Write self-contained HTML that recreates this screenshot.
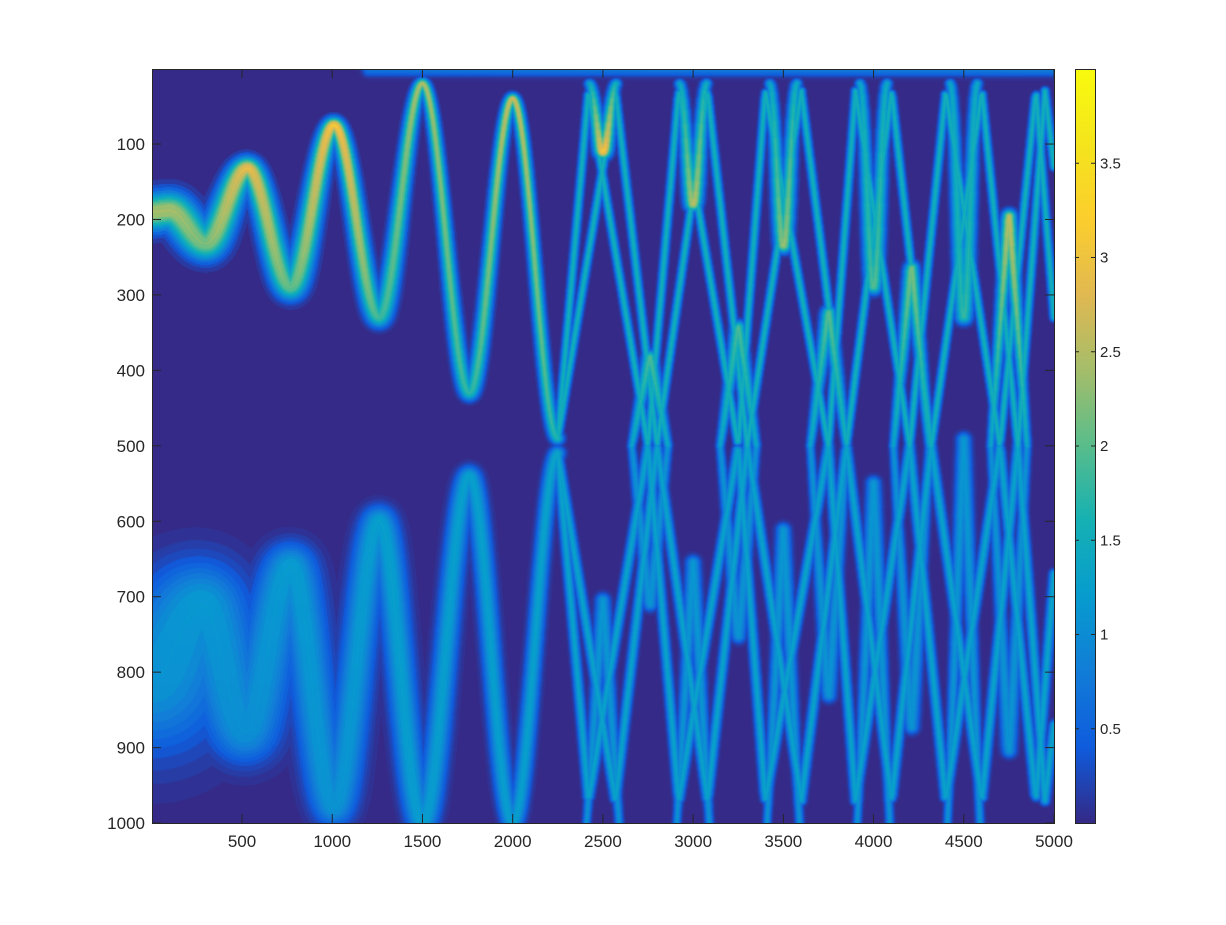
<!DOCTYPE html>
<html><head><meta charset="utf-8"><style>
body{margin:0;background:#fff;width:1226px;height:925px;overflow:hidden;position:relative;font-family:"Liberation Sans",Arial,sans-serif}
canvas{position:absolute}
svg{position:absolute;left:0;top:0}
</style></head><body>
<canvas id="hm" width="902" height="754" style="left:152px;top:69px"></canvas>
<canvas id="cb" width="20" height="754" style="left:1075px;top:69px"></canvas>
<svg id="ax" width="1226" height="925"></svg>
<script>
// ---- data (ridges, data coordinates) ----
const chirpTopX=[1,100,300,530,770,1010,1260,1500,1760,2000,2250];
const chirpTopY=[190,188,232,132,290,75,330,20,430,40,490];
const chirpTopV=[2.6,2.6,2.3,3.1,2.1,3.3,1.9,2.6,1.8,2.8,1.7];
const chirpTopW=[24,24,22,14,17,10,13,7,10,7,8];
const chirpBotX=[1,280,520,770,1010,1260,1500,1760,2000,2250];
const chirpBotY=[810,710,880,660,980,600,1000,540,1000,510];
const chirpBotV=[1.15,1.25,1.1,1.3,1.15,1.35,1.3,1.35,1.3,1.4];
const chirpBotW=[95,55,40,30,24,20,16,13,11,9];
const zig1X=[2250,2420,2750,2920,3250,3400,3750,3900,4200,4400,4700,4900,5000];
const zig1Y=[490,30,500,30,500,30,500,30,500,30,500,30,330];
const zig2X=[2250,2570,2800,3080,3300,3600,3850,4100,4320,4600,4800,4950,5000];
const zig2Y=[490,30,500,30,500,30,500,30,500,30,500,30,130];
const uCenters=[2500,3000,3500,4000,4500];
const uDepth=[110,180,235,290,330];
const uPeak=[3.3,2.7,2.5,2.1,1.9];
const lamCenters=[2760,3250,3750,4210,4750];
const lamApex=[380,340,320,260,190];
const lamPeak=[2.0,2.0,2.1,2.3,2.7];
const botLamApex=[705,655,612,550,492];
const botVApex=[714,757,837,880,912];
const edgeX=[1200,5000], edgeY=[2,2], edgeV=[0.7,0.8], edgeW=[8,8];
const xTicks=[500,1000,1500,2000,2500,3000,3500,4000,4500,5000];
const yTicks=[100,200,300,400,500,600,700,800,900,1000];
const cTicks=[0.5,1,1.5,2,2.5,3,3.5];
const cMin=0, cMax=4;

// ---- scales ----
const PX0=152,PY0=69,PW=902,PH=754;
const sx=x=>151.8+0.18044*x;
const sy=y=>68.6+0.75444*y;
const sc=v=>823-(v-cMin)/(cMax-cMin)*754;

// ---- ridges ----
const ridges=[];
function add(xs,ys,vs,ws,mode){ridges.push({xs,ys,vs,ws,mode});}
add(chirpBotX,chirpBotY,chirpBotV,chirpBotW,'cos');
add(chirpTopX,chirpTopY,chirpTopV,chirpTopW,'cos');
add(edgeX,edgeY,edgeV,edgeW,'lin');
function zig(xs,ys,k,wf,mir){add(xs,ys.map(y=>mir?1000-y:y),xs.map(()=>1.6*k),xs.map(()=>5*wf),'lin');}
zig(zig1X,zig1Y,1,1,false);zig(zig2X,zig2Y,1,1,false);
zig(zig1X,zig1Y,0.85,1.2,true);zig(zig2X,zig2Y,0.85,1.2,true);
uCenters.forEach((c,i)=>{
  add([c-75,c,c+75],[20,uDepth[i],20],[1.4,uPeak[i],1.4],[6,10,6],'cos');
  add([c-90,c,c+90],[1000,botLamApex[i],1000],[1.1,1.2,1.1],[5,9,5],'lin');
});
lamCenters.forEach((c,i)=>{
  add([c-100,c,c+100],[500,lamApex[i],500],[1.4,lamPeak[i],1.4],[5,9,5],'lin');
  add([c-100,c,c+100],[500,botVApex[i],500],[1.1,1.15,1.1],[5,9,5],'lin');
});

function evalR(r,x){
  const xs=r.xs;if(x<xs[0]||x>xs[xs.length-1])return null;
  let k=0;while(k<xs.length-2&&x>xs[k+1])k++;
  let t=(x-xs[k])/(xs[k+1]-xs[k]);
  let tt=r.mode==='cos'?(1-Math.cos(Math.PI*t))/2:t;
  return {y:r.ys[k]+(r.ys[k+1]-r.ys[k])*tt,v:r.vs[k]+(r.vs[k+1]-r.vs[k])*t,w:r.ws[k]+(r.ws[k+1]-r.ws[k])*t};
}
const stops=[[53,42,135],[15,92,221],[18,125,216],[7,156,207],[21,177,180],[89,189,140],[165,190,107],[225,185,82],[252,206,46],[245,229,29],[249,251,14]];
function cmap(t){t=Math.max(0,Math.min(1,t))*10;const i=Math.min(9,Math.floor(t)),f=t-i;const a=stops[i],b=stops[i+1];return [a[0]+(b[0]-a[0])*f,a[1]+(b[1]-a[1])*f,a[2]+(b[2]-a[2])*f];}

// scalar field drawn as gaussian-profile strokes (max compositing)
const off=document.createElement('canvas');off.width=PW;off.height=PH;
const oc=off.getContext('2d');
oc.fillStyle='#000';oc.fillRect(0,0,PW,PH);
oc.globalCompositeOperation='lighten';
oc.lineCap='round';
const levels=[0.05,0.12,0.2,0.3,0.4,0.5,0.6,0.7,0.8,0.9,1.0];
for(const r of ridges){
  const x0=r.xs[0],x1=r.xs[r.xs.length-1];
  const step=6;const pts=[];
  for(let x=x0;;x+=step){const xx=Math.min(x,x1);const a=evalR(r,xx);pts.push([sx(xx)-PX0,sy(a.y)-PY0,a.v,a.w*0.75444]);if(xx>=x1)break;}
  for(const q of levels){
    const d=Math.sqrt(-Math.log(q));
    for(let k=0;k<pts.length-1;k++){
      const p=pts[k],n=pts[k+1];
      const g=Math.round(Math.min(255,p[2]*q/cMax*255));
      oc.strokeStyle=`rgb(${g},${g},${g})`;
      oc.lineWidth=Math.max(0.8,2*d*p[3]);
      oc.beginPath();oc.moveTo(p[0],p[1]);oc.lineTo(n[0],n[1]);oc.stroke();
    }
  }
}
const src=oc.getImageData(0,0,PW,PH).data;
const hm=document.getElementById('hm').getContext('2d');
const img=hm.createImageData(PW,PH);
for(let p=0;p<PW*PH;p++){const c=cmap(src[p*4]/255);img.data[p*4]=c[0];img.data[p*4+1]=c[1];img.data[p*4+2]=c[2];img.data[p*4+3]=255;}
hm.putImageData(img,0,0);
const cb=document.getElementById('cb').getContext('2d');
for(let j=0;j<754;j++){const c=cmap(1-j/753);cb.fillStyle=`rgb(${c[0]|0},${c[1]|0},${c[2]|0})`;cb.fillRect(0,j,20,1);}

// ---- axes ----
const svg=document.getElementById('ax');const NS='http://www.w3.org/2000/svg';
function el(tag,at,txt){const e=document.createElementNS(NS,tag);for(const k in at)e.setAttribute(k,at[k]);if(txt!=null)e.textContent=txt;svg.appendChild(e);return e;}
const frame=el('rect',{x:152.5,y:69.5,width:902,height:754,fill:'none',stroke:'#262626','stroke-width':1});


xTicks.forEach(t=>{const X=sx(t);
  el('line',{x1:X,y1:823,x2:X,y2:814,stroke:'#262626'});el('line',{x1:X,y1:69,x2:X,y2:78,stroke:'#262626'});
  const tx=el('text',{x:X,y:847,'font-size':17,'text-anchor':'middle',fill:'#262626'},t);
  
  
});
yTicks.forEach(t=>{const Y=sy(t);
  el('line',{x1:152,y1:Y,x2:161,y2:Y,stroke:'#262626'});el('line',{x1:1054,y1:Y,x2:1045,y2:Y,stroke:'#262626'});
  const tx=el('text',{x:145,y:Y+6,'font-size':17,'text-anchor':'end',fill:'#262626'},t);
  
  
});
const cbf=el('rect',{x:1075.5,y:69.5,width:20,height:754,fill:'none',stroke:'#262626'});


cTicks.forEach(t=>{const Y=sc(t);
  el('line',{x1:1095,y1:Y,x2:1091,y2:Y,stroke:'#262626'});el('line',{x1:1075,y1:Y,x2:1079,y2:Y,stroke:'#262626'});
  const tx=el('text',{x:1100,y:Y+5,'font-size':15,'text-anchor':'start',fill:'#262626'},t);
  
  
});
</script>
</body></html>
